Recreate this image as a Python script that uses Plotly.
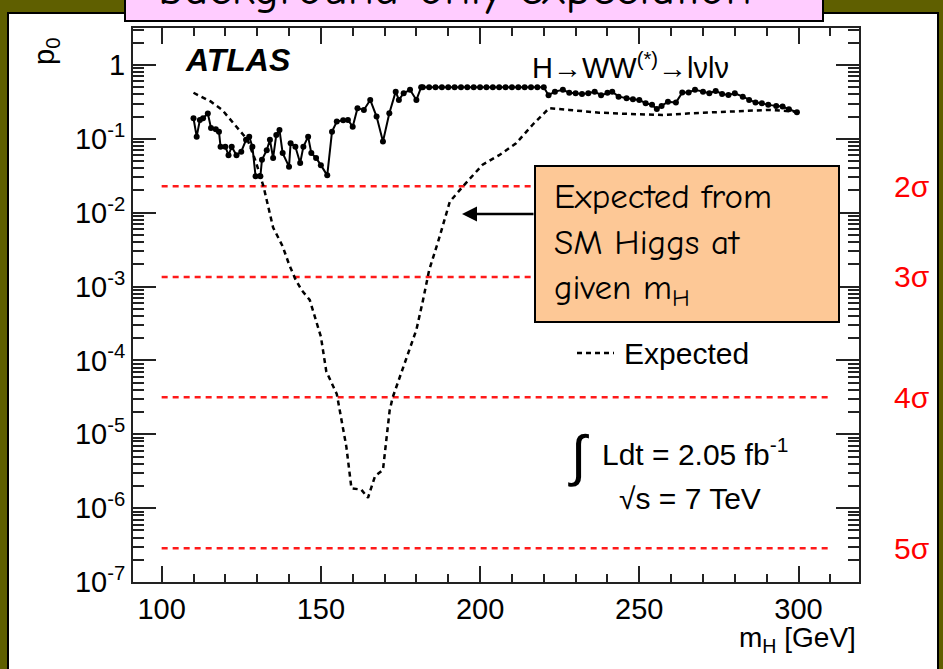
import math
import plotly.graph_objects as go

# ---- data -------------------------------------------------------------
obs_mass = [110, 111, 112, 113, 114.5, 115.5, 117, 118, 118.5, 120, 121, 122,
            123.5, 125, 126.5, 127.5, 128.5, 129.5, 131, 131.5, 133, 134, 135,
            136, 137, 138, 140, 140.5, 142, 143.5, 144.5, 146, 147, 148.5, 150,
            152, 153.5, 155, 157, 158.5, 160, 161.5, 163.5, 165.5, 167.5, 169.5,
            171.5, 173.5, 174.5, 176, 178, 180, 181.5,
            182, 184, 186, 188, 190, 192, 194, 196, 198, 200, 202, 204, 206,
            208, 210, 212, 214, 216, 218, 220,
            221.5, 223.5, 226, 228, 230, 232, 234, 236, 238, 240, 241.5, 243.5,
            246, 248, 250, 252, 254, 255.5, 257, 259, 261.5, 263.5, 265.5,
            267.5, 270, 272, 274, 276, 278, 280, 282.5, 284.5, 286.5, 288.5,
            290.5, 293, 295, 297, 299.5]
obs_p0 = [0.19, 0.107, 0.18, 0.19, 0.22, 0.14, 0.135, 0.125, 0.078, 0.078, 0.06,
          0.078, 0.06, 0.067, 0.097, 0.107, 0.078, 0.031, 0.031, 0.052, 0.07,
          0.097, 0.055, 0.113, 0.132, 0.064, 0.042, 0.087, 0.078, 0.047, 0.078,
          0.107, 0.064, 0.055, 0.044, 0.032, 0.125, 0.171, 0.178, 0.18, 0.146,
          0.26, 0.246, 0.336, 0.2, 0.092, 0.222, 0.435, 0.336, 0.414, 0.46,
          0.336, 0.5,
          0.5, 0.5, 0.5, 0.5, 0.5, 0.5, 0.5, 0.5, 0.5, 0.5, 0.5, 0.5, 0.5,
          0.5, 0.5, 0.5, 0.5, 0.5, 0.5, 0.5,
          0.39, 0.435, 0.46, 0.42, 0.414, 0.405, 0.414, 0.435, 0.39, 0.42,
          0.435, 0.372, 0.354, 0.343, 0.336, 0.303, 0.288, 0.254, 0.279, 0.318,
          0.309, 0.423, 0.423, 0.46, 0.435, 0.414, 0.445, 0.405, 0.393, 0.414,
          0.372, 0.336, 0.309, 0.303, 0.288, 0.279, 0.273, 0.251, 0.229]

exp_mass = [110, 115.5, 119, 122.5, 125, 127, 129.5, 132, 135, 138, 140, 142,
            144, 146.5, 150, 151.7, 155, 158, 159.6, 162.7, 164.8, 167, 169.5,
            170, 171.6, 172.6, 176.8, 180, 182, 184, 187, 190.5, 194.5, 200.8,
            206, 211.3, 216.5, 221.7, 228, 237.4, 246.8, 257.2, 266.6, 279.2,
            290.7, 299.6]
exp_p0 = [0.42, 0.318, 0.246, 0.163, 0.119, 0.0966, 0.05, 0.0225, 6.3e-3,
          3.5e-3, 2.0e-3, 1.26e-3, 8.9e-4, 6.6e-4, 2.1e-4, 7.1e-5, 3.5e-5,
          6.8e-6, 1.86e-6, 1.78e-6, 1.38e-6, 2.7e-6, 3.3e-6, 5.0e-6, 2.1e-5,
          3.2e-5, 1.02e-4, 2.6e-4, 6.3e-4, 1.66e-3, 4.3e-3, 0.0141, 0.0224,
          0.0447, 0.060, 0.087, 0.155, 0.26, 0.246, 0.226, 0.217, 0.21, 0.222,
          0.233, 0.246, 0.233]

sigma_labels = ["2σ", "3σ", "4σ", "5σ"]
sigma_p0 = [0.02275, 1.35e-3, 3.17e-5, 2.87e-7]
sigma_mass_span = [100, 310]

x_ticks = [100, 150, 200, 250, 300]
y_decades = [-7, -6, -5, -4, -3, -2, -1, 0]
y_ticktext = ["10<sup>-7</sup>", "10<sup>-6</sup>", "10<sup>-5</sup>",
              "10<sup>-4</sup>", "10<sup>-3</sup>", "10<sup>-2</sup>",
              "10<sup>-1</sup>", "1"]

# ---- geometry helpers (pixel -> paper) ---------------------------------
W, H = 943, 669
ML, MR, MT, MB = 133, 84, 28, 87
PW, PH = W - ML - MR, H - MT - MB


def px_x(p):
    return (p - ML) / PW


def px_y(p):
    return (H - MB - p) / PH


OLIVE = "#5f5f00"
FONT = "Liberation Sans, Arial, Helvetica, sans-serif"
HAND = "Comic Sans MS, Comic Neue, Noto Sans, sans-serif"

y_major = [10.0 ** d for d in y_decades]
# log-axis minor ticks at 2..9 within every decade
y_minor = [k * 10.0 ** d for d in y_decades for k in range(2, 10)
           if k * 10.0 ** d < 10 ** 0.5]

fig = go.Figure()

# significance reference lines
for p in sigma_p0:
    fig.add_trace(go.Scatter(
        x=sigma_mass_span, y=[p, p], mode="lines",
        line=dict(color="#ff1a1a", width=2.5, dash="6px,5px"),
        hoverinfo="skip"))

# expected p0
fig.add_trace(go.Scatter(
    x=exp_mass, y=exp_p0, mode="lines",
    line=dict(color="black", width=2.5, dash="5px,4px"),
    name="Expected"))

# observed p0
fig.add_trace(go.Scatter(
    x=obs_mass, y=obs_p0, mode="lines+markers",
    line=dict(color="black", width=2),
    marker=dict(color="black", size=6),
    name="Observed"))

fig.update_layout(
    width=W, height=H,
    margin=dict(l=ML, r=MR, t=MT, b=MB, pad=0),
    paper_bgcolor=OLIVE,
    plot_bgcolor="white",
    showlegend=False,
    xaxis=dict(
        range=[91, 319], tickvals=x_ticks, ticks="inside", ticklen=16,
        tickwidth=1.5, tickcolor="#222",
        minor=dict(tickmode="array",
                   tickvals=list(range(100, 320, 10)),
                   ticks="inside", ticklen=8, tickwidth=1.5,
                   tickcolor="#222"),
        showline=True, linewidth=2, linecolor="#222", mirror="ticks",
        showgrid=False, zeroline=False,
        tickfont=dict(family=FONT, size=29, color="black")),
    yaxis=dict(
        type="log", range=[-7, 0.5],
        tickmode="array", tickvals=y_major, ticktext=y_ticktext,
        ticks="inside", ticklen=23, tickwidth=1.5, tickcolor="#222",
        minor=dict(tickmode="array", tickvals=y_minor, ticks="inside",
                   ticklen=11, tickwidth=1.5, tickcolor="#222"),
        showline=True, linewidth=2, linecolor="#222", mirror="ticks",
        showgrid=False, zeroline=False,
        tickfont=dict(family=FONT, size=29, color="black")),
)

shapes = [
    # white slide panel inside the olive frame
    dict(type="rect", xref="paper", yref="paper", layer="below",
         x0=px_x(8), x1=px_x(938), y0=px_y(700), y1=px_y(13),
         fillcolor="white", line=dict(color="black", width=2)),
    # pink title box
    dict(type="rect", xref="paper", yref="paper", layer="above",
         x0=px_x(125), x1=px_x(823), y0=px_y(21), y1=px_y(-20),
         fillcolor="#ffccff", line=dict(color="black", width=2)),
    # orange callout box
    dict(type="rect", xref="paper", yref="paper", layer="above",
         x0=px_x(535), x1=px_x(839), y0=px_y(322), y1=px_y(166),
         fillcolor="#fdc896", line=dict(color="black", width=2)),
    # legend sample for the expected curve
    dict(type="line", xref="paper", yref="paper", layer="above",
         x0=px_x(577), x1=px_x(614), y0=px_y(353), y1=px_y(353),
         line=dict(color="black", width=2.5, dash="5px,4px")),
]

ann = []


def text(x, y, s, size=30, family=FONT, color="black", xanchor="center",
         angle=0, align="center"):
    ann.append(dict(xref="paper", yref="paper", x=px_x(x), y=px_y(y),
                    text=s, showarrow=False, xanchor=xanchor,
                    yanchor="middle", textangle=angle, align=align,
                    font=dict(family=family, size=size, color=color)))


# title strip text (runs past the top edge of the page)
text(455, -12, "background-only expectation", size=48, family=HAND)

# axis titles
text(46, 52, "p<sub>0</sub>", size=29, angle=-90)
text(858, 639, "m<sub>H</sub> [GeV]", size=28, xanchor="right")

# experiment and channel labels
text(183, 60, "<b><i>ATLAS</i></b>", size=32, xanchor="left")
text(530, 66, "H→WW<sup>(*)</sup>→lνlν", size=29, xanchor="left")

# legend text
text(622, 353, "Expected", size=30, xanchor="left")

# luminosity and energy
text(578, 455, "∫", size=56)
text(600, 452, "Ldt = 2.05 fb<sup>-1</sup>", size=30, xanchor="left")
text(690, 498, "√s = 7 TeV", size=30)

# callout text
text(552, 244, "Expected from<br>SM Higgs at<br>given m<sub>H</sub>",
     size=35, family=HAND, xanchor="left", align="left")

# significance labels beside the plot
for lab, p in zip(sigma_labels, sigma_p0):
    ann.append(dict(xref="paper", yref="y", x=px_x(912), y=math.log10(p),
                    text=lab, showarrow=False, xanchor="center",
                    yanchor="middle",
                    font=dict(family=FONT, size=30, color="#ff0000")))

# arrow from the callout to the expected curve
ann.append(dict(xref="paper", yref="paper", x=px_x(462), y=px_y(214),
                ax=73, ay=0, text="", showarrow=True, arrowhead=2,
                arrowsize=1.2, arrowwidth=2.5, arrowcolor="black"))

fig.update_layout(shapes=shapes, annotations=ann)

fig.write_html("out.html")
